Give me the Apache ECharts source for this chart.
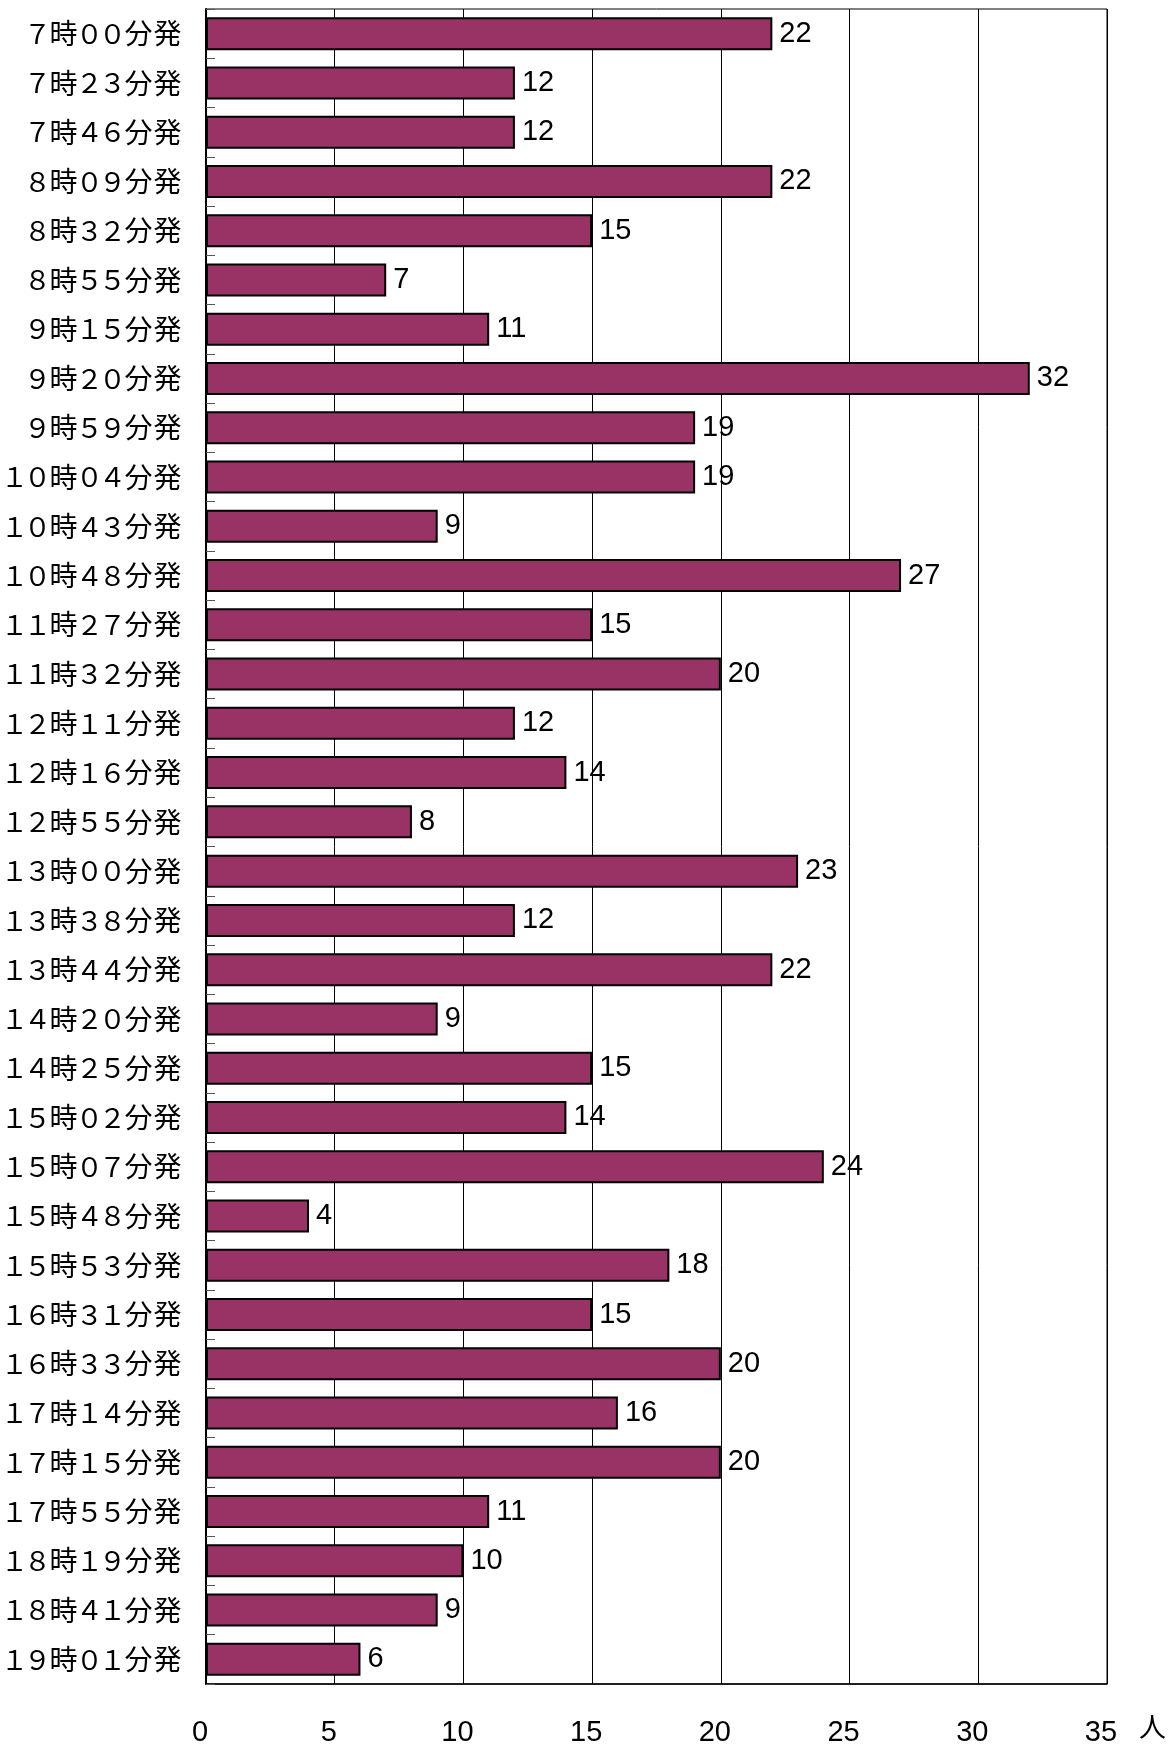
<!DOCTYPE html>
<html>
<head>
<meta charset="utf-8">
<script src="https://cdn.jsdelivr.net/npm/echarts@6/dist/echarts.min.js"></script>
<style>
html,body{margin:0;padding:0;background:#fff;}
#chart{width:1176px;height:1746px;}
</style>
</head>
<body>
<div id="chart"></div>
<script>
const categories = [
  "７時００分発","７時２３分発","７時４６分発","８時０９分発","８時３２分発","８時５５分発",
  "９時１５分発","９時２０分発","９時５９分発","１０時０４分発","１０時４３分発","１０時４８分発",
  "１１時２７分発","１１時３２分発","１２時１１分発","１２時１６分発","１２時５５分発","１３時００分発",
  "１３時３８分発","１３時４４分発","１４時２０分発","１４時２５分発","１５時０２分発","１５時０７分発",
  "１５時４８分発","１５時５３分発","１６時３１分発","１６時３３分発","１７時１４分発","１７時１５分発",
  "１７時５５分発","１８時１９分発","１８時４１分発","１９時０１分発"
];
const passengers = [
  22,12,12,22,15,7,
  11,32,19,19,9,27,
  15,20,12,14,8,23,
  12,22,9,15,14,24,
  4,18,15,20,16,20,
  11,10,9,6
];
const xTicks = { min: 0, max: 35, interval: 5 };
const unitLabel = "人";

function richLabel(s) {
  let out = '';
  for (const ch of s) {
    if (/[０-９0-9]/.test(ch)) out += '{d|' + ch + '}';
    else out += '{c|' + ch + '}';
  }
  return out;
}

const chart = echarts.init(document.getElementById('chart'), null, {renderer: 'canvas'});
chart.setOption({
  backgroundColor: '#ffffff',
  animation: false,
  grid: {
    left: 206, right: 69, top: 9, bottom: 62,
    containLabel: false, outerBoundsMode: 'none',
    show: true, borderColor: '#000', borderWidth: 1, backgroundColor: 'transparent'
  },
  graphic: [{
    type: 'text',
    left: 1139, top: 1713,
    style: { text: unitLabel, fontFamily: 'Noto Sans CJK JP', fontSize: 27, fill: '#000' }
  }],
  xAxis: {
    type: 'value',
    min: xTicks.min, max: xTicks.max, interval: xTicks.interval,
    axisLine: { show: true, lineStyle: { color: '#000', width: 1.5 } },
    axisTick: { show: false },
    splitLine: { show: true, lineStyle: { color: '#000', width: 1 } },
    axisLabel: {
      fontFamily: 'Liberation Sans', fontSize: 29, color: '#000',
      margin: 34, padding: [0, 12, 0, 0]
    }
  },
  yAxis: {
    type: 'category',
    data: categories,
    inverse: true,
    axisLine: { show: true, lineStyle: { color: '#000', width: 2 } },
    axisTick: { show: true, inside: true, length: 9, lineStyle: { color: '#555', width: 1 } },
    axisLabel: {
      color: '#000',
      margin: 24, interval: 0,
      formatter: richLabel,
      rich: {
        d: { fontFamily: 'Noto Sans CJK JP', fontSize: 27, width: 23, align: 'center', color: '#000' },
        c: { fontFamily: 'Noto Sans CJK JP', fontSize: 28, width: 29, align: 'center', color: '#000' }
      }
    },
    splitLine: { show: false }
  },
  series: [{
    type: 'bar',
    data: passengers,
    barCategoryGap: '33%',
    itemStyle: { color: '#993366', borderColor: '#000', borderWidth: 2 },
    label: {
      show: true, position: 'right', distance: 7,
      fontFamily: 'Liberation Sans', fontSize: 29, color: '#000',
      padding: [6, 0, 0, 0]
    }
  }]
});
</script>
</body>
</html>
